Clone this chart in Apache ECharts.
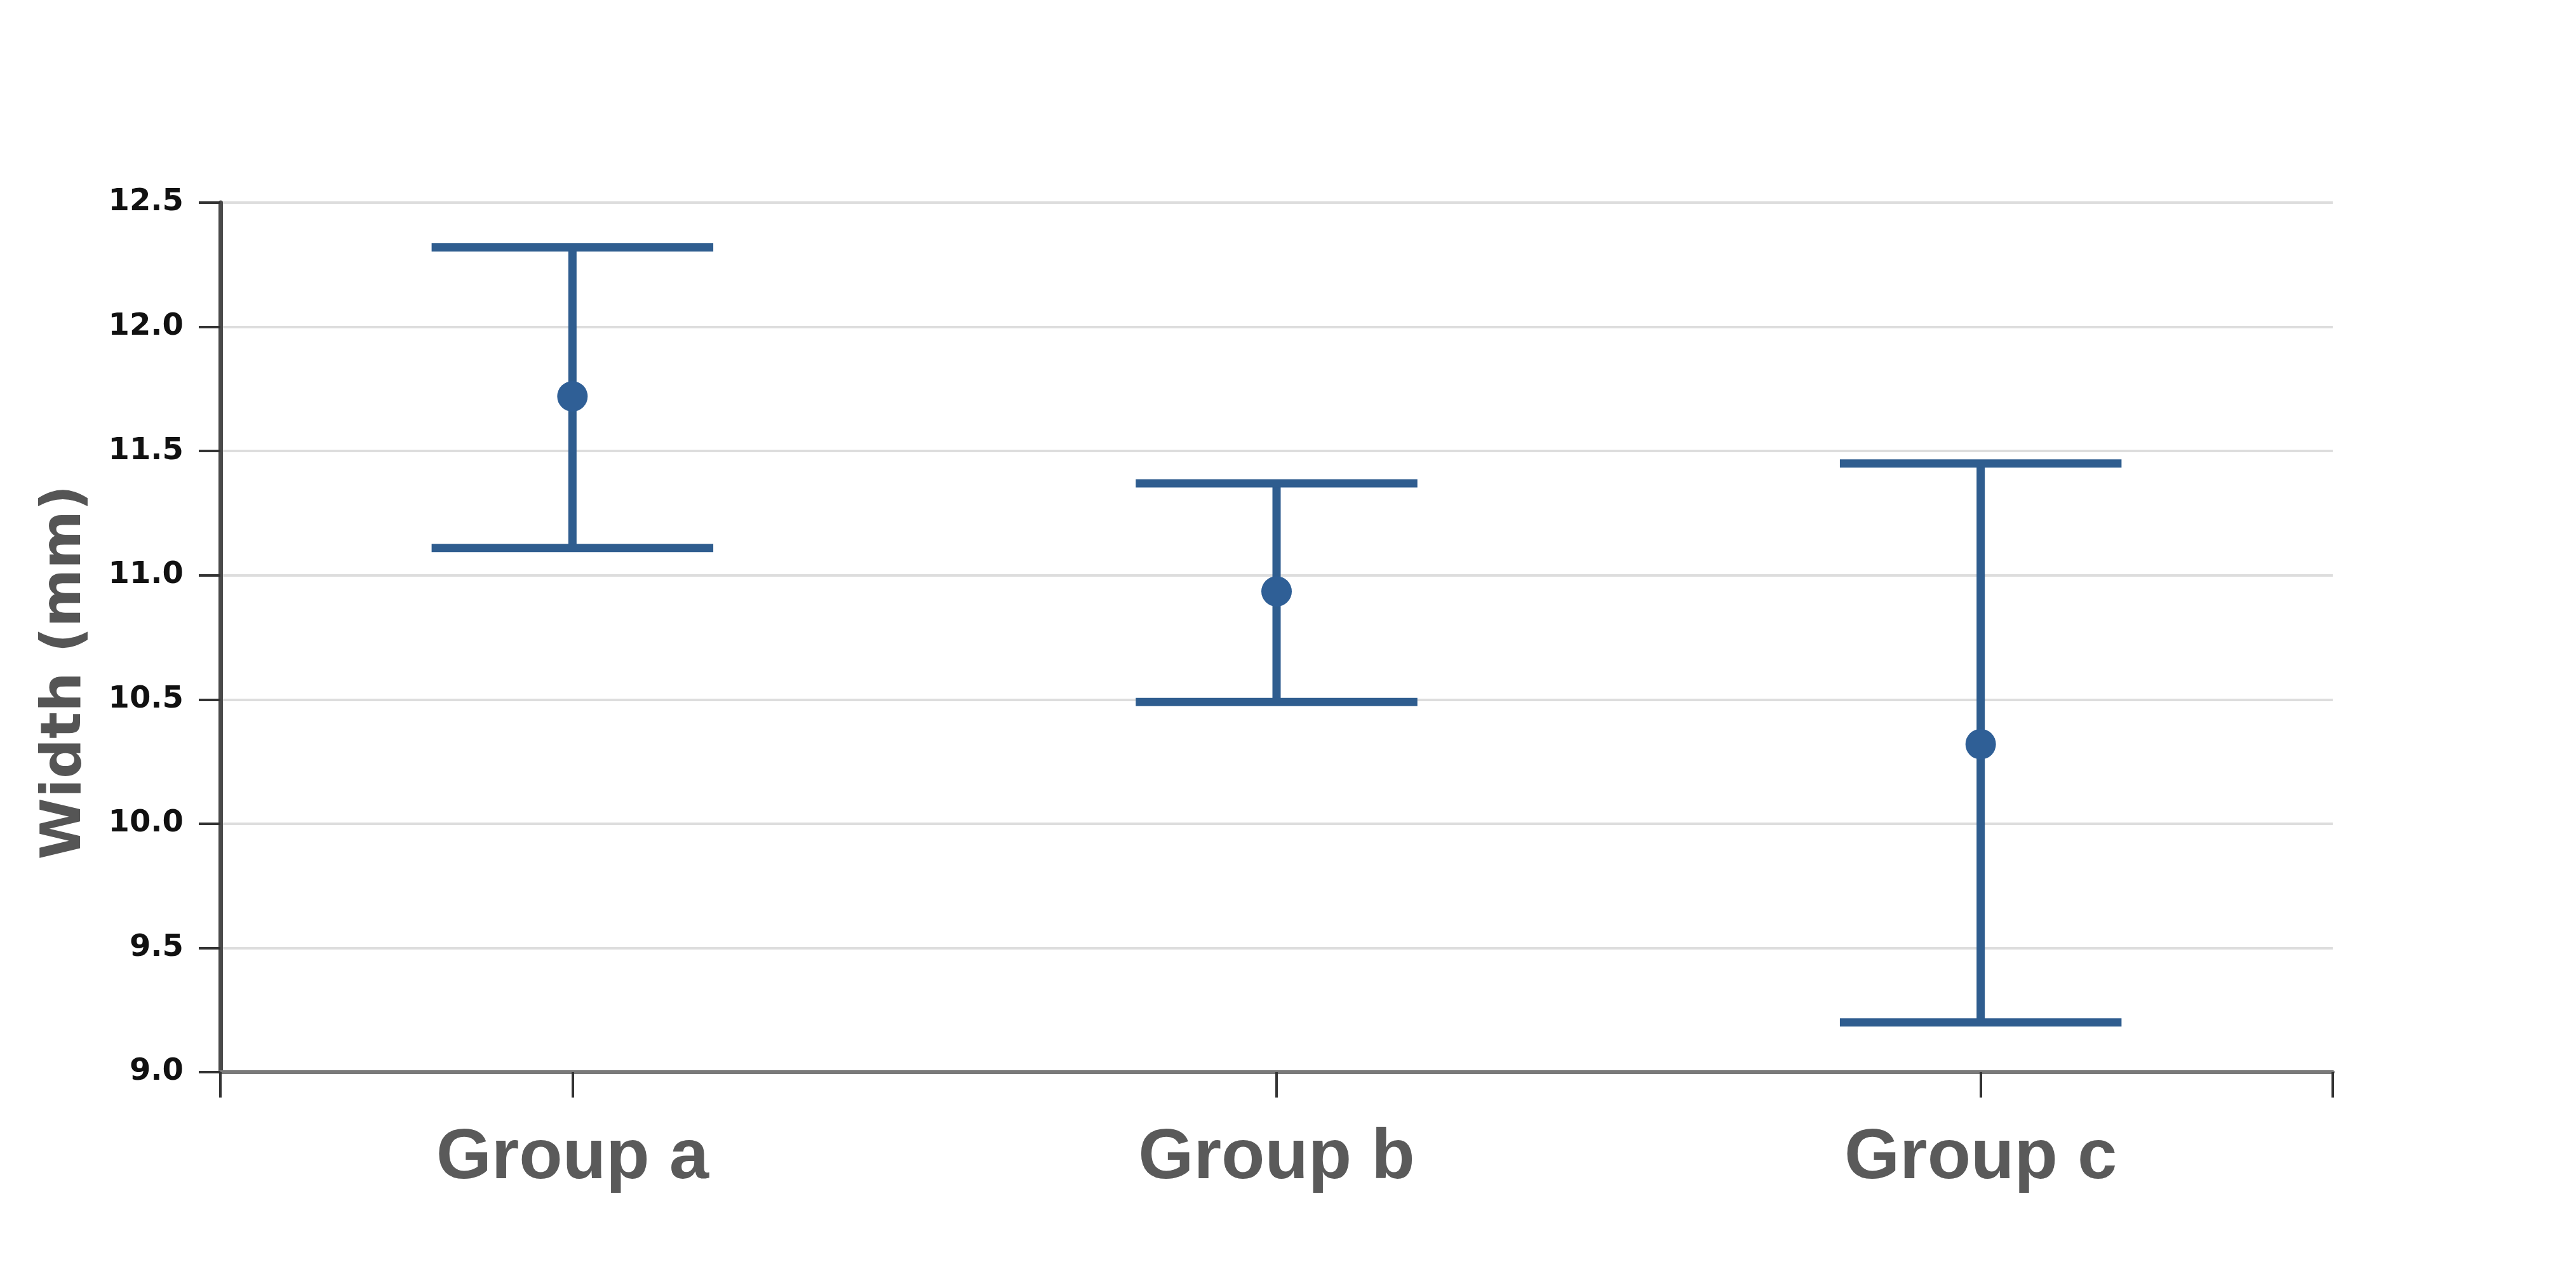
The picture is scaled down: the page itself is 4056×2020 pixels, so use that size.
<!DOCTYPE html>
<html>
<head>
<meta charset="utf-8">
<script src="https://cdn.jsdelivr.net/npm/echarts@6/dist/echarts.min.js"></script>
<style>
  html, body { margin: 0; padding: 0; background: #ffffff; }
  #chart { width: 4056px; height: 2020px; }
</style>
</head>
<body>
<div id="chart"></div>
<script>
// ---- data ----
const categories = ['Group a', 'Group b', 'Group c'];
const means  = [11.72, 10.935, 10.32];
const lowers = [11.11, 10.49, 9.20];
const uppers = [12.32, 11.37, 11.45];
const yMin = 9.0, yMax = 12.5, yStep = 0.5;
const yTitle = 'Width (mm)';

// ---- build chart ----
const seriesData = categories.map((c, i) => [i, lowers[i], uppers[i], means[i]]);
const color = '#2f5d8f';

const chart = echarts.init(document.getElementById('chart'), null, { renderer: 'canvas' });

const option = {
  backgroundColor: '#ffffff',
  animation: false,
  grid: { left: 347, right: 383, top: 319, bottom: 332, containLabel: false },
  xAxis: {
    type: 'value',
    min: -0.5,
    max: categories.length - 0.5,
    interval: 0.5,
    axisLine: { show: true, onZero: false, lineStyle: { color: '#7a7a7a', width: 6 } },
    axisTick: {
      show: true,
      length: 40,
      customValues: [-0.5].concat(categories.map((c, i) => i), [categories.length - 0.5]),
      lineStyle: { color: '#333333', width: 4 }
    },
    axisLabel: {
      show: true,
      customValues: categories.map((c, i) => i),
      formatter: v => categories[Math.round(v)] || '',
      margin: 80,
      fontFamily: '"Liberation Sans", Arial, sans-serif',
      fontWeight: 'bold',
      fontSize: 112,
      color: '#5a5a5a'
    },
    splitLine: { show: false }
  },
  yAxis: {
    type: 'value',
    min: yMin,
    max: yMax,
    interval: yStep,
    name: yTitle,
    nameLocation: 'middle',
    nameGap: 200,
    nameTextStyle: {
      fontFamily: '"DejaVu Sans", sans-serif',
      fontWeight: 'bold',
      fontSize: 88,
      color: '#555555',
      padding: [0, 110, 0, 0]
    },
    axisLine: { show: true, onZero: false, lineStyle: { color: '#4a4a4a', width: 7 } },
    axisTick: { show: true, length: 34, lineStyle: { color: '#333333', width: 4 } },
    axisLabel: {
      margin: 58,
      formatter: v => v.toFixed(1),
      fontFamily: '"DejaVu Sans", sans-serif',
      fontWeight: 'bold',
      fontSize: 48,
      color: '#111111'
    },
    splitLine: { show: true, lineStyle: { color: '#dddddd', width: 4 } }
  },
  series: [{
    type: 'custom',
    data: seriesData,
    encode: { x: 0, y: [1, 2, 3] },
    clip: false,
    renderItem: function (params, api) {
      const x = api.value(0);
      const lo = api.value(1), hi = api.value(2), m = api.value(3);
      const pHi = api.coord([x, hi]);
      const pLo = api.coord([x, lo]);
      const pM = api.coord([x, m]);
      const half = api.coord([x + 0.2, hi])[0] - pHi[0];
      const lineStyle = { stroke: color, lineWidth: 13, lineCap: 'butt' };
      return {
        type: 'group',
        children: [
          { type: 'line', shape: { x1: pHi[0], y1: pHi[1], x2: pLo[0], y2: pLo[1] }, style: lineStyle },
          { type: 'line', shape: { x1: pHi[0] - half, y1: pHi[1], x2: pHi[0] + half, y2: pHi[1] }, style: lineStyle },
          { type: 'line', shape: { x1: pLo[0] - half, y1: pLo[1], x2: pLo[0] + half, y2: pLo[1] }, style: lineStyle },
          { type: 'circle', shape: { cx: pM[0], cy: pM[1], r: 24 }, style: { fill: '#2f5f96' } }
        ]
      };
    }
  }]
};

chart.setOption(option);
</script>
</body>
</html>
